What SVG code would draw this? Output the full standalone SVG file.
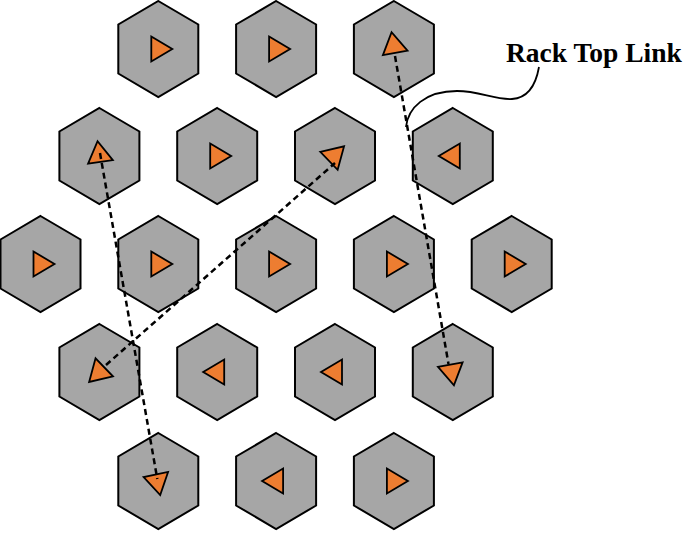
<svg xmlns="http://www.w3.org/2000/svg" xmlns:xlink="http://www.w3.org/1999/xlink" width="685" height="534" viewBox="0 0 685 534">
<style>
.hex{fill:#A6A6A6;stroke:#000;stroke-width:2;stroke-linejoin:miter}
.tri{fill:#ED7D31;stroke:#000;stroke-width:1.8;stroke-linejoin:miter}
.link{fill:none;stroke:#000;stroke-width:2.5;stroke-dasharray:6,4}
.callout{fill:none;stroke:#000;stroke-width:1.8}
.label{font-family:"Liberation Serif","Times New Roman",serif;font-weight:bold;font-size:27.5px;fill:#000}
</style>
<defs>
<path id="hx" class="hex" d="M0,-48 L40,-24.5 L40,24.5 L0,48 L-40,24.5 L-40,-24.5 Z"/>
<path id="tr" class="tri" d="M-7,-12.5 L14,0 L-7,12.5 Z"/>
</defs>
<rect width="685" height="534" fill="#fff"/>
<!-- Row 1 -->
<g id="n1"><use xlink:href="#hx" x="158.3" y="49"/><use xlink:href="#tr" transform="translate(158.3,49)"/></g>
<g id="n2"><use xlink:href="#hx" x="276.1" y="49"/><use xlink:href="#tr" transform="translate(276.1,49)"/></g>
<g id="n3"><use xlink:href="#hx" x="393.9" y="49"/><use xlink:href="#tr" transform="translate(394,46) rotate(-100)"/></g>
<!-- Row 2 -->
<g id="n4"><use xlink:href="#hx" x="99.4" y="156"/><use xlink:href="#tr" transform="translate(99.5,155) rotate(-98)"/></g>
<g id="n5"><use xlink:href="#hx" x="217.2" y="156"/><use xlink:href="#tr" transform="translate(217.2,156)"/></g>
<g id="n6"><use xlink:href="#hx" x="335" y="156"/><use xlink:href="#tr" transform="translate(334,156) rotate(-44)"/></g>
<g id="n7"><use xlink:href="#hx" x="452.8" y="156"/><use xlink:href="#tr" transform="translate(452.8,156) rotate(180)"/></g>
<!-- Row 3 -->
<g id="n8"><use xlink:href="#hx" x="40.5" y="264"/><use xlink:href="#tr" transform="translate(40.5,264)"/></g>
<g id="n9"><use xlink:href="#hx" x="158.3" y="264"/><use xlink:href="#tr" transform="translate(158.3,264)"/></g>
<g id="n10"><use xlink:href="#hx" x="276.1" y="264"/><use xlink:href="#tr" transform="translate(276.1,264)"/></g>
<g id="n11"><use xlink:href="#hx" x="393.9" y="264"/><use xlink:href="#tr" transform="translate(393.9,264)"/></g>
<g id="n12"><use xlink:href="#hx" x="511.7" y="264"/><use xlink:href="#tr" transform="translate(511.7,264)"/></g>
<!-- Row 4 -->
<g id="n13"><use xlink:href="#hx" x="99.4" y="372"/><use xlink:href="#tr" transform="translate(99.2,372.2) rotate(136)"/></g>
<g id="n14"><use xlink:href="#hx" x="217.2" y="372"/><use xlink:href="#tr" transform="translate(217.2,372) rotate(180)"/></g>
<g id="n15"><use xlink:href="#hx" x="335" y="372"/><use xlink:href="#tr" transform="translate(335,372) rotate(180)"/></g>
<g id="n16"><use xlink:href="#hx" x="452.8" y="372"/><use xlink:href="#tr" transform="translate(451.5,371.5) rotate(80)"/></g>
<!-- Row 5 -->
<g id="n17"><use xlink:href="#hx" x="158.3" y="481"/><use xlink:href="#tr" transform="translate(157.3,481.4) rotate(78)"/></g>
<g id="n18"><use xlink:href="#hx" x="276.1" y="481"/><use xlink:href="#tr" transform="translate(276.1,481) rotate(180)"/></g>
<g id="n19"><use xlink:href="#hx" x="393.9" y="481"/><use xlink:href="#tr" transform="translate(393.9,481)"/></g>
<!-- Connectors -->
<g id="links">
<line class="link" x1="395" y1="56" x2="448.5" y2="364"/>
<line class="link" x1="100" y1="153" x2="157.3" y2="479"/>
<line class="link" x1="106" y1="365" x2="335" y2="163"/>
<path class="callout" d="M539,67 C536,84 528,98 512,99 C494,100 480,91 457,91 C425,91 408,108 406,127"/>
</g>
<text class="label" x="506" y="62">Rack Top Link</text>
</svg>
